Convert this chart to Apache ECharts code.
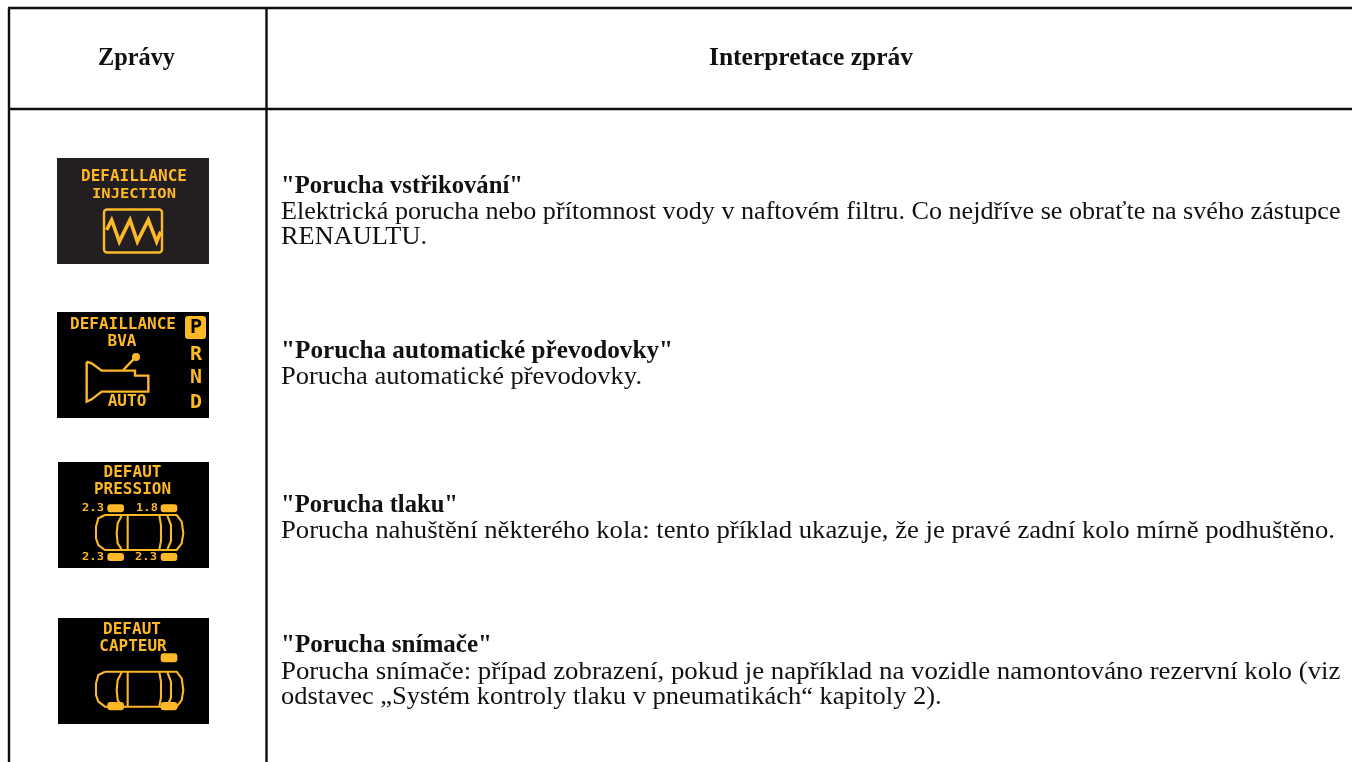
<!DOCTYPE html>
<html><head><meta charset="utf-8">
<style>html,body{margin:0;padding:0;background:#fff}#c{width:1352px;height:762px}</style>
<script src="https://cdn.jsdelivr.net/npm/echarts@6/dist/echarts.min.js"></script>
</head><body><div id="c"></div>
<script>
const headers = ['Zprávy', 'Interpretace zpráv'];
const titles = ['"Porucha vstřikování"', '"Porucha automatické převodovky"', '"Porucha tlaku"', '"Porucha snímače"'];
const titleEnds = [523, 673, 458, 492];
const titleBaselines = [194, 359, 513, 653];
const bodyLines = [
  [['Elektrická porucha nebo přítomnost vody v naftovém filtru. Co nejdříve se obraťte na svého zástupce', 1340.5, 220], ['RENAULTU.', 427, 245]],
  [['Porucha automatické převodovky.', 642, 385]],
  [['Porucha nahuštění některého kola: tento příklad ukazuje, že je pravé zadní kolo mírně podhuštěno.', 1335, 539]],
  [['Porucha snímače: případ zobrazení, pokud je například na vozidle namontováno rezervní kolo (viz', 1340.5, 680], ['odstavec „Systém kontroly tlaku v pneumatikách“ kapitoly 2).', 0, 705]]
];
const SERIF = '"Liberation Serif","Times New Roman",serif';
const MONO = '"DejaVu Sans Mono",monospace';
const OR = '#FDB827';
const X0 = 281, FS = 25;
const els = [];
const measure = document.createElement('canvas').getContext('2d');
function width(s,bold,size){measure.font=(bold?'bold ':'')+size+'px '+SERIF;return measure.measureText(s).width;}
function txt(s, x, y, o) {
  o = o || {};
  els.push({type:'text', x, y, scaleX:o.sx||1, scaleY:o.sy||1, silent:true, style:{text:s, x:0, y:0,
    fill:o.fill||'#111', font:(o.bold?'bold ':'')+(o.size||FS)+'px '+(o.fam||SERIF),
    textAlign:o.align||'left', textVerticalAlign:'middle'}, z:o.z||5});
}
function fit(s,x0,x1,base,bold,size){
  const sz=size||FS;
  txt(s,x0,base-0.3*sz,{bold,size:sz,sx:(x1-x0)/width(s,bold,sz)});
}
function rect(x,y,w,h,fill,r,z){els.push({type:'rect',silent:true,shape:{x,y,width:w,height:h,r:r||0},style:{fill},z:z||1});}
function line(x1,y1,x2,y2){els.push({type:'line',silent:true,shape:{x1,y1,x2,y2},style:{stroke:'#0c0c0c',lineWidth:2.4},z:2});}
function poly(ox,oy,pts,w,fill){
  els.push({type:fill?'polygon':'polyline',silent:true,shape:{points:pts.map(p=>[ox+p[0]/3,oy+p[1]/3])},
    style:fill?{fill:OR}:{stroke:OR,lineWidth:w||2,fill:null,lineJoin:'miter'},z:3});
}
// table rules
line(8,8,1352,8); line(9,8,9,762); line(266.5,8,266.5,762); line(8,109,1352,109);
fit(headers[0],98,175,66,true,25);
fit(headers[1],709,913,66,true,25);
// text rows
const regularScale = 361/width(bodyLines[1][0][0],false,FS);
titles.forEach((t,i)=>{
  fit(t,X0,titleEnds[i],titleBaselines[i],true);
  bodyLines[i].forEach(l=>{
    const end = l[1] || X0+width(l[0],false,FS)*regularScale;
    fit(l[0],X0,end,l[2],false);
  });
});
function label(s,x,y,size,o){txt(s,x,y,Object.assign({fill:OR,fam:MONO,bold:true,size:size||16,align:'center',z:4,sy:0.95},o||{}));}
// icon backgrounds
rect(57,158,152,106,'#231f20');
rect(57,312,152,106,'#000');
rect(58,462,151,106,'#000');
rect(58,618,151,106,'#000');
// icon 1
label('DEFAILLANCE',134,177); label('INJECTION',134,194,15.5);
els.push({type:'rect',silent:true,shape:{x:104,y:209.5,width:58,height:43,r:3},style:{stroke:OR,fill:null,lineWidth:2.4},z:3});
poly(50,150,[[170,240],[185,210],[208,275],[240,210],[262,275],[295,210],[320,275],[332,245]],3.6);
// icon 2
label('DEFAILLANCE',123,325); label('BVA',122,342); label('AUTO',127,402);
rect(185,316,21,23,OR,3,3);
label('P',196,328,20,{fill:'#000'}); label('R',196,355,20); label('N',196,378.5,20); label('D',196,403,20);
poly(50,305,[[110,170],[125,175],[155,197],[255,197],[255,212],[295,212],[295,260],[155,260],[125,283],[110,290],[110,170]],2.4);
poly(50,305,[[220,195],[258,155]],2.4);
els.push({type:'circle',silent:true,shape:{cx:136,cy:357,r:4},style:{fill:OR},z:3});
// cars
function car(ox,oy,wheels){
  poly(ox,oy,[[165,180],[145,190],[138,215],[138,250],[145,270],[165,285],[380,285],[395,265],[400,235],[395,200],[380,180],[165,180]],2.1);
  poly(ox,oy,[[215,182],[203,205],[200,235],[203,265],[215,283]],2.1);
  poly(ox,oy,[[233,182],[233,283]],2.1);
  poly(ox,oy,[[328,182],[333,210],[333,258],[328,283]],2.1);
  poly(ox,oy,[[352,182],[363,210],[363,258],[352,283]],2.1);
  wheels.forEach(w=>rect(ox+w[0]/3,oy+w[1]/3,50/3,w[2]/3,OR,3,3));
}
// icon 3
label('DEFAUT',132.5,473); label('PRESSION',132.5,490);
car(50,455,[[172,148,24],[332,148,24],[172,294,24],[332,294,24]]);
const pressures = ['2.3','1.8','2.3','2.3'];
const pressPos = [[93,508],[147,508],[93,557],[146,557]];
pressures.forEach((p,i)=>label(p,pressPos[i][0],pressPos[i][1],11.5,{sx:1.05}));
// icon 4
label('DEFAUT',132,630); label('CAPTEUR',133,647);
car(50,611.7,[[332,125,27],[172,271,25],[332,271,25]]);

const chart = echarts.init(document.getElementById('c'), null, {renderer:'canvas', width:1352, height:762});
chart.setOption({animation:false, backgroundColor:'#fff', graphic:{elements:els}});
</script></body></html>
